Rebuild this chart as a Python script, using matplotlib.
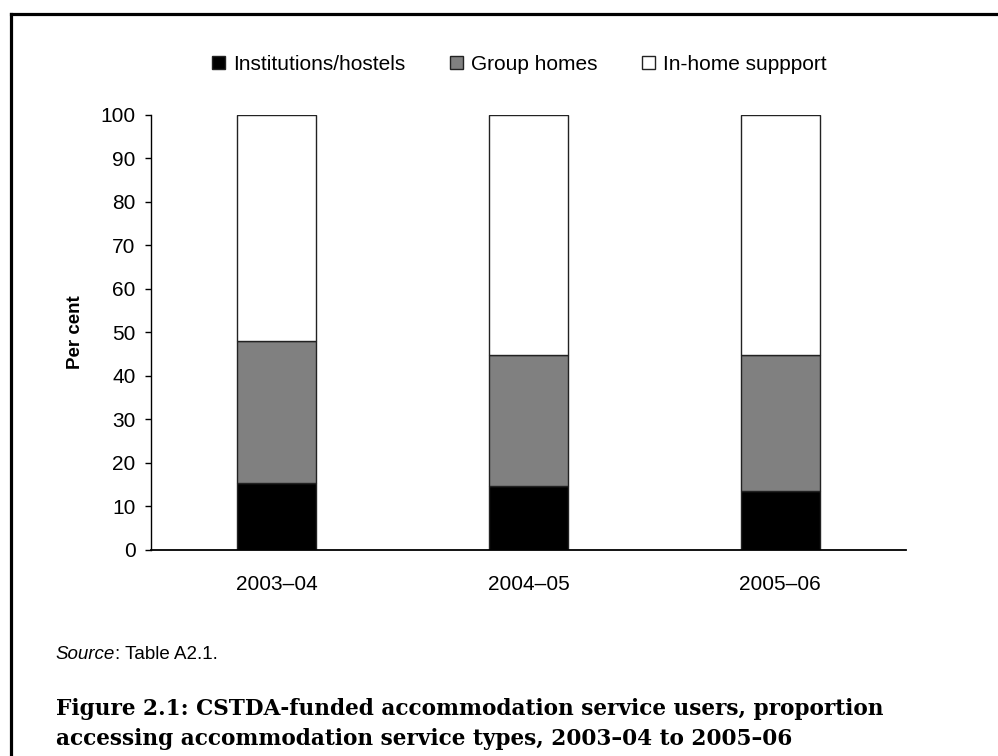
import numpy as np
import matplotlib.pyplot as plt
from matplotlib.lines import Line2D
from matplotlib.patches import Patch

years = ["2003\u201304", "2004\u201305", "2005\u201306"]
institutions = [15.5, 14.6, 13.6]
group_homes = [32.4, 30.2, 31.2]
in_home = [52.1, 55.2, 55.2]

series_names = ["Institutions/hostels", "Group homes", "In-home suppport"]
colours = ["#000000", "#808080", "#ffffff"]

plt.rcParams["font.family"] = ["Liberation Sans", "DejaVu Sans"]

fig = plt.figure(figsize=(9.98, 7.56), dpi=100)
ax = fig.add_axes([0.1513, 0.2725, 0.7565, 0.5758])

x = np.arange(len(years))
bottom = np.zeros(len(years))
for vals, col in zip([institutions, group_homes, in_home], colours):
    ax.bar(x, vals, width=0.315, bottom=bottom, color=col,
           edgecolor="#222222", linewidth=1.0)
    bottom += np.array(vals)

ax.set_xlim(-0.5, 2.5)
ax.set_ylim(0, 100)
ax.set_yticks(range(0, 101, 10))
ax.set_xticks(x)
ax.set_xticklabels(years)
ax.tick_params(axis="y", direction="out", length=4, width=1, labelsize=15, pad=7)
ax.tick_params(axis="x", length=0, labelsize=15, pad=18)
for s in ["top", "right"]:
    ax.spines[s].set_visible(False)
ax.spines["left"].set_linewidth(1)
ax.spines["bottom"].set_linewidth(1.3)
ax.set_ylabel("Per cent", fontsize=13.5, fontweight="bold", labelpad=12)

handles = [Patch(facecolor=c, edgecolor="#222222", linewidth=1) for c in colours]
fig.legend(handles, series_names, loc="center left",
           bbox_to_anchor=(0.2124, 0.9153), ncol=3, frameon=False,
           fontsize=15, handlelength=0.62, handleheight=0.6,
           handletextpad=0.38, columnspacing=2.16, borderpad=0,
           borderaxespad=0)

# outer frame (only top and left edges visible)
fig.add_artist(Line2D([0.011, 0.011], [0, 0.9812], color="black", lw=2.3,
                      transform=fig.transFigure, solid_capstyle="projecting"))
fig.add_artist(Line2D([0.011, 1.0], [0.9812, 0.9812], color="black", lw=2.3,
                      transform=fig.transFigure, solid_capstyle="projecting"))

src = fig.text(0.056, 0.1336, "Source", fontsize=13.5, style="italic", va="center")
fig.canvas.draw()
bb = src.get_window_extent().transformed(fig.transFigure.inverted())
fig.text(bb.x1, 0.1336, ": Table A2.1.", fontsize=13.5, va="center")

fig.text(0.056, 0.0423,
         "Figure 2.1: CSTDA-funded accommodation service users, proportion\n"
         "accessing accommodation service types, 2003\u201304 to 2005\u201306",
         family=["DejaVu Serif"], fontweight="bold",
         fontsize=15.6, va="center", linespacing=1.5)

fig.savefig("out.png", dpi=100)
